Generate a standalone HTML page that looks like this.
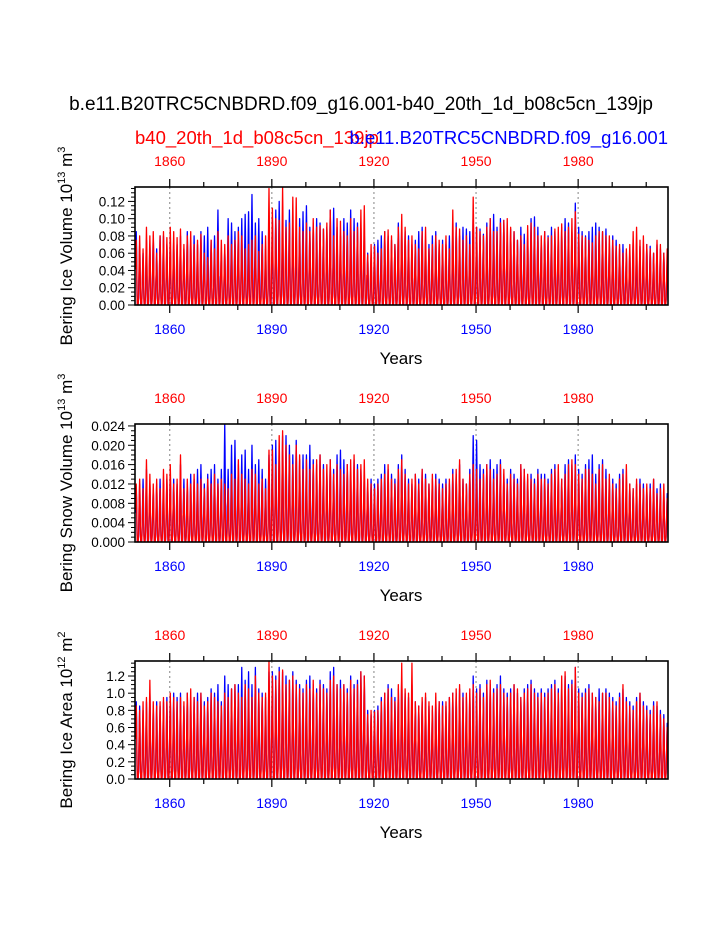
<!DOCTYPE html>
<html><head><meta charset="utf-8"><style>
body{margin:0;background:#fff;}
svg{display:block;font-family:"Liberation Sans",sans-serif;}
</style></head><body>
<svg id="fig" width="723" height="935">
<text x="361" y="110" font-size="19" text-anchor="middle">b.e11.B20TRC5CNBDRD.f09_g16.001-b40_20th_1d_b08c5cn_139jp</text>
<text x="135" y="144" font-size="18.5" fill="#ff0000">b40_20th_1d_b08c5cn_139jp</text>
<text x="668" y="144" font-size="18.5" fill="#0000ff" text-anchor="end">b.e11.B20TRC5CNBDRD.f09_g16.001</text>
</svg>
<script>
const startYear = 1850;
const iceVolRed = [.075,.08,.065,.09,.08,.085,.06,.08,.085,.078,.09,.085,.078,.088,.07,.08,.085,.07,.075,.082,.06,.055,.075,.065,.085,.075,.07,.08,.07,.075,.085,.08,.065,.07,.075,.08,.062,.07,.08,.135,.112,.1,.098,.136,.09,.095,.125,.124,.09,.085,.095,.085,.1,.09,.092,.088,.095,.11,.08,.1,.097,.085,.08,.1,.085,.09,.11,.115,.058,.07,.068,.06,.065,.085,.087,.08,.07,.09,.105,.09,.075,.08,.07,.065,.085,.09,.065,.07,.08,.075,.07,.08,.065,.11,.09,.088,.075,.08,.07,.125,.09,.085,.08,.09,.1,.085,.085,.095,.098,.1,.09,.085,.075,.08,.07,.092,.095,.09,.08,.08,.085,.078,.08,.088,.09,.094,.085,.09,.1,.108,.082,.08,.078,.075,.072,.08,.085,.085,.08,.08,.075,.068,.07,.06,.065,.07,.085,.09,.075,.08,.07,.065,.06,.075,.07,.06,.065];
const iceVolBlue = [.085,.07,.06,.075,.07,.08,.065,.08,.08,.07,.07,.075,.07,.08,.065,.085,.075,.08,.07,.085,.08,.09,.075,.08,.11,.06,.065,.1,.095,.085,.09,.1,.105,.108,.128,.095,.1,.085,.065,.09,.1,.11,.12,.095,.098,.11,.095,.085,.1,.108,.115,.09,.095,.1,.095,.088,.09,.11,.112,.09,.08,.1,.095,.11,.1,.095,.09,.085,.06,.055,.07,.075,.08,.085,.08,.075,.07,.095,.09,.085,.08,.07,.075,.085,.09,.075,.07,.08,.085,.07,.075,.07,.08,.085,.095,.08,.09,.088,.085,.105,.09,.088,.082,.095,.1,.105,.09,.1,.098,.08,.088,.085,.075,.09,.082,.08,.1,.102,.09,.075,.085,.08,.09,.085,.08,.09,.1,.095,.085,.118,.09,.085,.08,.085,.09,.095,.09,.085,.088,.07,.08,.075,.065,.07,.06,.062,.075,.07,.068,.065,.07,.068,.06,.07,.065,.06,.05];
const snowRed = [.012,.013,.011,.017,.014,.012,.013,.011,.015,.014,.016,.012,.013,.018,.011,.013,.012,.014,.012,.013,.011,.013,.012,.014,.012,.013,.012,.011,.014,.013,.017,.014,.013,.012,.015,.014,.012,.013,.011,.019,.019,.016,.022,.023,.02,.018,.016,.02,.018,.015,.017,.015,.016,.017,.018,.015,.016,.017,.014,.016,.015,.014,.016,.017,.018,.015,.016,.017,.013,.012,.011,.012,.013,.014,.016,.013,.012,.015,.017,.014,.012,.013,.014,.012,.015,.013,.012,.014,.013,.012,.011,.012,.013,.014,.015,.017,.013,.012,.014,.016,.015,.013,.014,.016,.015,.013,.014,.016,.015,.012,.014,.013,.012,.016,.015,.014,.013,.012,.014,.013,.013,.012,.014,.015,.016,.013,.014,.016,.017,.016,.014,.013,.015,.015,.014,.012,.015,.016,.013,.014,.012,.011,.013,.014,.016,.012,.011,.013,.012,.011,.012,.011,.013,.010,.011,.012,.009];
const snowBlue = [.011,.012,.013,.015,.012,.011,.012,.013,.012,.013,.014,.013,.012,.016,.013,.012,.014,.013,.015,.016,.012,.014,.015,.016,.013,.015,.0245,.015,.02,.021,.016,.018,.019,.015,.02,.016,.017,.015,.013,.018,.02,.021,.019,.022,.022,.02,.018,.021,.017,.018,.018,.02,.017,.016,.018,.016,.014,.017,.015,.018,.019,.017,.016,.015,.017,.016,.015,.014,.012,.013,.012,.013,.014,.016,.015,.014,.013,.016,.018,.015,.013,.012,.014,.013,.015,.014,.012,.013,.014,.013,.012,.013,.012,.015,.014,.016,.013,.012,.015,.022,.021,.016,.015,.016,.017,.015,.016,.017,.014,.013,.015,.014,.013,.016,.015,.013,.014,.013,.015,.014,.014,.013,.015,.016,.014,.013,.016,.017,.016,.018,.015,.014,.016,.017,.018,.014,.016,.017,.015,.013,.013,.012,.014,.015,.013,.012,.011,.012,.013,.012,.011,.012,.013,.011,.012,.010,.010];
const areaRed = [.85,.8,.9,.95,1.15,.9,.85,.9,.95,.9,1.0,.95,.9,.95,.9,1.0,1.05,.95,.9,1.0,.85,.9,1.0,.95,.9,.85,1.0,.95,1.05,1.1,1.0,.95,1.1,1.05,.95,1.2,1.0,.95,1.0,1.38,1.2,1.15,1.25,1.27,1.1,1.15,1.2,1.1,1.05,1.0,1.1,1.05,1.15,1.0,1.1,1.05,1.0,1.15,1.2,1.1,1.05,1.1,1.0,1.15,1.05,1.1,1.25,1.2,.75,.8,.78,.8,.9,1.0,1.05,.95,.9,1.1,1.35,1.05,1.0,1.35,.9,.85,.95,1.0,.9,.85,1.0,.9,.85,.9,.95,1.0,1.05,1.1,.95,1.0,1.05,1.1,1.0,1.05,.95,1.1,1.15,1.0,1.05,1.1,1.0,.95,1.0,1.1,1.05,.95,1.0,1.05,1.1,1.0,.95,1.0,.95,1.0,1.05,1.1,1.0,1.2,1.25,1.05,1.1,1.3,1.0,.95,1.0,1.05,1.0,.95,.9,1.0,1.0,.95,.9,.85,.95,1.1,.9,.85,.8,.9,1.0,.85,.8,.75,.85,.9,.75,.7,.6];
const areaBlue = [.9,.85,.8,.9,1.0,.85,.9,.85,.9,.95,.95,1.0,.95,1.0,.85,1.0,.9,.95,1.0,1.0,.9,.95,1.05,1.0,1.1,.9,1.2,1.1,1.05,1.1,1.1,1.3,1.15,1.25,1.1,1.3,1.05,1.0,.95,1.25,1.25,1.2,1.3,1.25,1.2,1.15,1.25,1.15,1.1,1.05,1.15,1.2,1.1,1.05,1.15,1.1,1.05,1.25,1.3,1.1,1.15,1.1,1.05,1.2,1.1,1.15,1.25,1.2,.8,.75,.8,.85,.95,1.0,1.1,1.05,.95,1.05,1.2,1.0,.95,1.1,.9,.85,.9,.95,.85,.8,.95,.9,.9,.85,.95,1.0,1.0,1.05,1.0,.95,1.0,1.2,1.05,1.1,1.0,1.15,1.1,1.05,1.1,1.2,1.05,1.0,1.05,1.1,1.0,.95,1.05,1.1,1.15,1.05,1.0,1.05,1.0,1.05,1.1,1.15,1.05,1.1,1.2,1.1,1.15,1.3,1.05,1.0,1.05,1.1,1.0,.95,1.05,1.0,1.05,1.0,.95,.9,1.0,1.05,.95,.9,.85,.95,1.0,.9,.85,.8,.9,.85,.8,.75,.65];
const seasonal = [.55,.8,1.0,.8,.45,.12,0,0,0,.02,.1,.3];
const topYears = [1860,1890,1920,1950,1980];

const NS='http://www.w3.org/2000/svg';
const svg=document.getElementById('fig');
function mk(tag,attrs,parent){const e=document.createElementNS(NS,tag);for(const k in attrs)e.setAttribute(k,attrs[k]);(parent||svg).appendChild(e);return e;}
const X0=135,X1=668;
const xs=y=>X0+(y-1849.8)/(2006.4-1849.8)*(X1-X0);
const defs=mk('defs',{});

function panel(top,ymax,major,minor,dec,blue,red,title,sup1,unit,sup2,key){
  const H=118,bot=top+H;
  const ys=v=>bot-v/ymax*H;
  const cp=mk('clipPath',{id:'clip-'+key},defs);
  mk('rect',{x:X0,y:top,width:X1-X0,height:H},cp);
  const g=mk('g',{});
  
  
  topYears.forEach(yr=>{const l=mk('line',{x1:xs(yr),x2:xs(yr),y1:top,y2:bot,stroke:'#999','stroke-dasharray':'2,3','stroke-width':1.2},g);
    
    });
  const dg=mk('g',{'clip-path':'url(#clip-'+key+')'},g);
  [[blue,'#0000ff'],[red,'#ff0000']].forEach(([arr,col],si)=>{
    let pts=[];
    arr.forEach((pk,i)=>{seasonal.forEach((f,m)=>{const t=startYear+i+m/12;pts.push(xs(t).toFixed(2)+','+ys(pk*f).toFixed(2));});});
    const p=mk('polyline',{points:pts.join(' '),fill:'none',stroke:col,'stroke-width':1.3,'stroke-linejoin':'round'},dg);
    
    
  });
  const fr=mk('rect',{x:X0,y:top,width:X1-X0,height:H,fill:'none',stroke:'#000','stroke-width':1.6},g);
  
  
  for(let yr=1860;yr<=2000;yr+=10){const x=xs(yr);if(x>X1)break;const big=(yr-1860)%30===0;
    mk('line',{x1:x,x2:x,y1:top,y2:top-(big?8:5),stroke:'#000','stroke-width':1.2},g);
    mk('line',{x1:x,x2:x,y1:bot,y2:bot+(big?8:5),stroke:'#000','stroke-width':1.2},g);}
  topYears.forEach(yr=>{
    const a=mk('text',{x:xs(yr),y:top-21,'font-size':14,fill:'#ff0000','text-anchor':'middle'},g);a.textContent=yr;
    
    
    const b=mk('text',{x:xs(yr),y:bot+29,'font-size':14,fill:'#0000ff','text-anchor':'middle'},g);b.textContent=yr;
    
    });
  const yt=mk('text',{x:401,y:bot+59,'font-size':17,'text-anchor':'middle'},g);yt.textContent='Years';
  
  
  for(let v=0;v<=ymax+1e-9;v+=minor){const y=ys(v);const isMaj=Math.abs(v/major-Math.round(v/major))<1e-6;
    mk('line',{x1:X0,x2:X0-(isMaj?7:4),y1:y,y2:y,stroke:'#000','stroke-width':1},g);
    if(isMaj){const t=mk('text',{x:X0-10,y:y+5,'font-size':13.5,'text-anchor':'end'},g);t.textContent=v.toFixed(dec);
      
      }}
  const cy=(top+bot)/2;
  const tt=mk('text',{x:0,y:0,'font-size':17,'text-anchor':'middle',transform:`translate(72,${cy}) rotate(-90)`},g);
  tt.innerHTML=title+' 10<tspan dy="-7" font-size="11">'+sup1+'</tspan><tspan dy="7"> '+unit+'</tspan><tspan dy="-7" font-size="11">'+sup2+'</tspan>';
  
  
}
panel(187,0.1367,0.02,0.005,2,iceVolBlue,iceVolRed,'Bering Ice Volume','13','m','3','ice-volume');
panel(424,0.0244,0.004,0.001,3,snowBlue,snowRed,'Bering Snow Volume','13','m','3','snow-volume');
panel(661,1.375,0.2,0.05,1,areaBlue,areaRed,'Bering Ice Area','12','m','2','ice-area');
</script>
</body></html>
